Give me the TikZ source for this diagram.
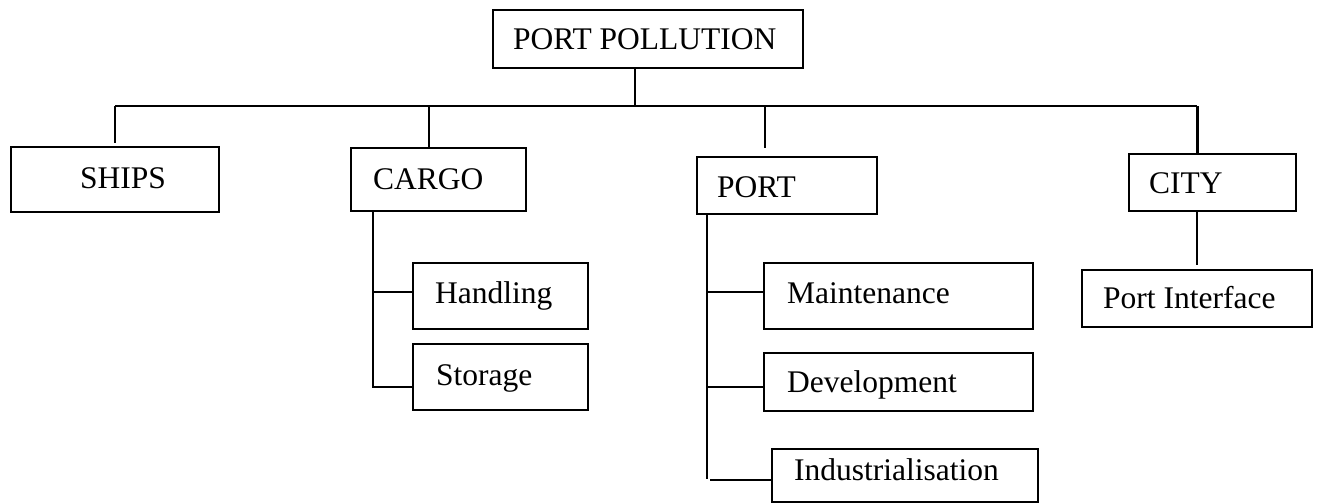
\documentclass[tikz,border=0pt]{standalone}
\usepackage{fontspec}
\setmainfont{Liberation Serif}
\begin{document}
\begin{tikzpicture}[x=1pt,y=-1pt,
  box/.style={draw,line width=1.7pt,rectangle,inner sep=0pt},
  lbl/.style={anchor=base west,inner sep=0pt,font=\fontsize{31.5}{36}\selectfont},
  wire/.style={line width=1.6pt},
  bus/.style={line width=2pt}]
\useasboundingbox (0,0) rectangle (1318,503);

% boxes
\node[box,minimum width=310pt,minimum height=58pt] (root)   at (648,39) {};
\node[box,minimum width=208pt,minimum height=65pt] (ships)  at (115,179.5) {};
\node[box,minimum width=175pt,minimum height=63pt] (cargo)  at (438.5,179.5) {};
\node[box,minimum width=180pt,minimum height=57pt] (port)   at (787,185.5) {};
\node[box,minimum width=167pt,minimum height=57pt] (city)   at (1212.5,182.5) {};
\node[box,minimum width=175pt,minimum height=66pt] (hand)   at (500.5,296) {};
\node[box,minimum width=175pt,minimum height=66pt] (stor)   at (500.5,377) {};
\node[box,minimum width=269pt,minimum height=66pt] (maint)  at (898.5,296) {};
\node[box,minimum width=269pt,minimum height=58pt] (devel)  at (898.5,382) {};
\node[box,minimum width=266pt,minimum height=53pt] (indus)  at (905,475.5) {};
\node[box,minimum width=230pt,minimum height=57pt] (iface)  at (1197,298.5) {};

% labels
\node[lbl] (troot)  at (513,50)  {PORT POLLUTION};
\node[lbl] (tships) at (80,188)  {SHIPS};
\node[lbl] (tcargo) at (373,189) {CARGO};
\node[lbl] (tport)  at (717,197) {PORT};
\node[lbl] (tcity)  at (1149,193) {CITY};
\node[lbl] (thand)  at (435,303) {Handling};
\node[lbl] (tstor)  at (436,385) {Storage};
\node[lbl] (tmaint) at (787,303) {Maintenance};
\node[lbl] (tdevel) at (787,392) {Development};
\node[lbl] (tindus) at (794,480) {Industrialisation};
\node[lbl] (tiface) at (1103,308) {Port Interface};

% top level bus
\coordinate (r0) at (635,106);
\coordinate (bl) at (115,106);
\coordinate (br) at (1197,106);
\draw[wire] (root.south -| r0) -- (r0);
\draw[bus] (bl) -- (br);

% stems down to the four groups
\coordinate (sShips) at (115,143);
\coordinate (jc) at (429,106);
\coordinate (jp) at (765,106);
\coordinate (sPort) at (765,148);
\draw[wire] (bl) -- (sShips);
\draw[wire] (jc) -- (jc |- cargo.north);
\draw[wire] (jp) -- (sPort);
\draw[line width=3pt] (br) -- (br |- city.north);

% cargo branches
\coordinate (ct) at (373,211);
\coordinate (cb) at (373,387);
\draw[wire] (ct) -- (cb) -- (cb -| stor.west);
\draw[wire] (ct |- 0,292) -- (hand.west |- 0,292);

% port branches
\coordinate (pt) at (707,214);
\coordinate (pb) at (707,479);
\coordinate (pi) at (710,480);
\draw[wire] (pt) -- (pb);
\draw[wire] (pt |- 0,292) -- (maint.west |- 0,292);
\draw[wire] (pt |- 0,387) -- (devel.west |- 0,387);
\draw[wire] (pi) -- (pi -| indus.west);

% city branch
\coordinate (ie) at (1197,265);
\draw[wire] (city.south -| ie) -- (ie);
\end{tikzpicture}
\end{document}
